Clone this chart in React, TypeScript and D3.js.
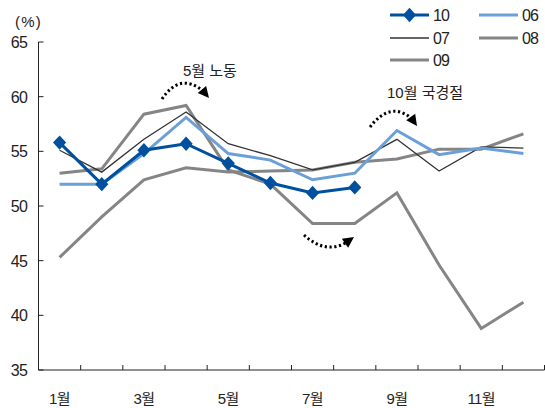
import React from "react";
import * as d3 from "d3";

const months = ["1월", "2월", "3월", "4월", "5월", "6월", "7월", "8월", "9월", "10월", "11월", "12월"];
const tickMonths = ["1월", "3월", "5월", "7월", "9월", "11월"];
const yTicks = [35, 40, 45, 50, 55, 60, 65];

const s10 = [55.8, 52.0, 55.1, 55.7, 53.9, 52.1, 51.2, 51.7];
const s06 = [52.0, 52.0, 54.8, 58.1, 54.8, 54.2, 52.4, 53.0, 56.9, 54.7, 55.3, 54.8];
const s07 = [55.1, 53.1, 56.1, 58.6, 55.7, 54.6, 53.3, 54.0, 56.1, 53.2, 55.4, 55.3];
const s08 = [53.0, 53.4, 58.4, 59.2, 53.3, 52.0, 48.4, 48.4, 51.2, 44.6, 38.8, 41.2];
const s09 = [45.3, 49.0, 52.4, 53.5, 53.1, 53.2, 53.3, 54.0, 54.3, 55.2, 55.2, 56.6];

const W = 545;
const H = 408;
const left = 38.5;
const right = 544.5;
const top = 42;
const bottom = 370;

const FONT = "'Liberation Sans', Arial, 'Noto Sans CJK KR', sans-serif";
const BLUE = "#0050a0";
const LIGHT = "#6a9fd8";
const DARK = "#333333";
const GRAY = "#858585";

const x = d3.scaleBand<string>().domain(months).range([left, right]);
const y = d3.scaleLinear().domain([35, 65]).range([bottom, top]);
const cx = (i: number) => (x(months[i]) as number) + x.bandwidth() / 2;

const line = d3
  .line<number>()
  .x((_, i) => cx(i))
  .y((d) => y(d));

// slightly tall diamond marker
const diamond = "M0,-7.2 L6.6,0 L0,7.2 L-6.6,0 Z";

type Series = { name: string; data: number[]; color: string; width: number; marker?: boolean };

const series: Series[] = [
  { name: "09", data: s09, color: GRAY, width: 3 },
  { name: "08", data: s08, color: GRAY, width: 3 },
  { name: "07", data: s07, color: DARK, width: 1.3 },
  { name: "06", data: s06, color: LIGHT, width: 3 },
  { name: "10", data: s10, color: BLUE, width: 3, marker: true },
];

const legend = [
  { name: "10", color: BLUE, width: 3, marker: true, lx: 390, ly: 15 },
  { name: "06", color: LIGHT, width: 3, lx: 479, ly: 15 },
  { name: "07", color: DARK, width: 1.3, lx: 390, ly: 38 },
  { name: "08", color: GRAY, width: 3, lx: 479, ly: 38 },
  { name: "09", color: GRAY, width: 3, lx: 390, ly: 60 },
];

function Arrow({ d, tip, angle }: { d: string; tip: [number, number]; angle: number }) {
  return (
    <g>
      <path d={d} fill="none" stroke="#000" strokeWidth={3} strokeDasharray="2.2 2.6" />
      <path
        d="M0,0 L-11,-5.5 L-11,5.5 Z"
        fill="#000"
        transform={`translate(${tip[0]},${tip[1]}) rotate(${angle})`}
      />
    </g>
  );
}

export default function App() {
  const xTickPos = months.map((m) => x(m) as number).concat([right]);
  return (
    <svg width={W} height={H} style={{ position: "absolute", left: 0, top: 0 }} fontFamily={FONT}>
      <rect width={W} height={H} fill="#fff" />
      <text x={15} y={27} fontSize={15} letterSpacing={1.2} fill="#222">(%)</text>

      {/* y axis */}
      <line x1={left} x2={left} y1={top} y2={bottom} stroke="#222" strokeWidth={1} />
      {yTicks.map((t) => (
        <g key={t}>
          <line x1={left} x2={left + 5} y1={y(t)} y2={y(t)} stroke="#222" />
          <text x={27} y={y(t) + 6} fontSize={16} textAnchor="end" letterSpacing={-0.8} fill="#222">
            {t}
          </text>
        </g>
      ))}

      {/* x axis */}
      <line x1={left} x2={right} y1={bottom} y2={bottom} stroke="#222" />
      {xTickPos.slice(1).map((p, i) => (
        <line key={i} x1={p} x2={p} y1={bottom} y2={bottom - 5} stroke="#222" />
      ))}
      {tickMonths.map((m) => (
        <text
          key={m}
          x={(x(m) as number) + x.bandwidth() / 2}
          y={404}
          fontSize={15}
          textAnchor="middle"
          letterSpacing={-0.6}
          fill="#222"
        >
          {m}
        </text>
      ))}

      {/* series */}
      {series.map((s) => (
        <g key={s.name}>
          <path d={line(s.data) || ""} fill="none" stroke={s.color} strokeWidth={s.width} strokeLinejoin="miter" />
          {s.marker &&
            s.data.map((v, i) => (
              <path key={i} d={diamond} transform={`translate(${cx(i)},${y(v)})`} fill={s.color} />
            ))}
        </g>
      ))}

      {/* annotations */}
      <text x={183} y={76} fontSize={15} fill="#222">5월 노동</text>
      <Arrow d="M162,99 Q180,72 203,91" tip={[209, 98]} angle={50} />

      <text x={387} y={98} fontSize={15} fill="#222">10월 국경절</text>
      <Arrow d="M370,127 Q390,101 411,118" tip={[417, 126]} angle={55} />

      <Arrow d="M304,235 Q326,255 347,242" tip={[354, 237]} angle={-35} />

      {/* legend */}
      {legend.map((l) => (
        <g key={l.name}>
          <line x1={l.lx} x2={l.lx + 39} y1={l.ly} y2={l.ly} stroke={l.color} strokeWidth={l.width} />
          {l.marker && <path d={diamond} transform={`translate(${l.lx + 19.5},${l.ly})`} fill={l.color} />}
          <text x={l.lx + 43} y={l.ly + 6} fontSize={16} letterSpacing={-0.8} fill="#222">
            {l.name}
          </text>
        </g>
      ))}
    </svg>
  );
}
